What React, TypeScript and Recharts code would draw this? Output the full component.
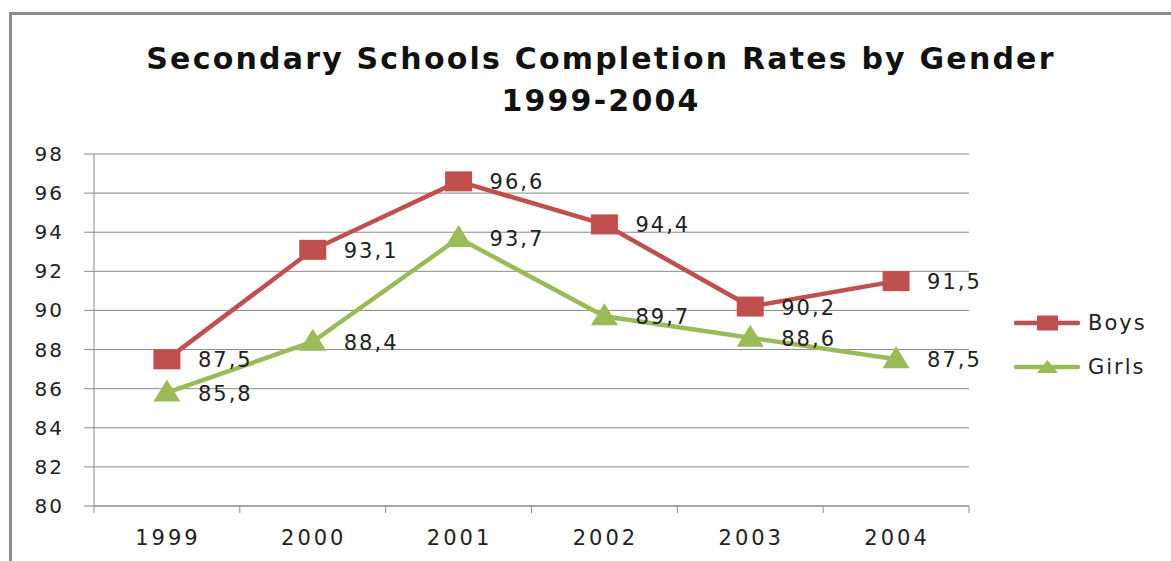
import { LineChart, Line, XAxis, YAxis, CartesianGrid, Legend, LabelList } from "recharts";

const years = [1999, 2000, 2001, 2002, 2003, 2004];
const boys = [87.5, 93.1, 96.6, 94.4, 90.2, 91.5];
const girls = [85.8, 88.4, 93.7, 89.7, 88.6, 87.5];
const yTicks = [80, 82, 84, 86, 88, 90, 92, 94, 96, 98];
const titleLines = ["Secondary Schools Completion Rates by Gender", "1999-2004"];

const RED = "#C0504D";
const GREEN = "#9BBB59";
const GRID = "#8a8a8a";
const FONT = "'DejaVu Sans', sans-serif";

const data = years.map((year, i) => ({ year, boys: boys[i], girls: girls[i] }));

// category boundaries get a small tick mark, centers get the year label
const xTicks: number[] = [];
years.forEach((y) => {
  xTicks.push(y - 0.5, y);
});
xTicks.push(years[years.length - 1] + 0.5);

const fmt = (v: number) => v.toFixed(1).replace(".", ",");

function SquareDot(props: any) {
  const { cx, cy } = props;
  if (cx == null || cy == null) return null;
  return <rect x={cx - 13.5} y={cy - 10} width={27} height={20} fill={RED} />;
}

function TriangleDot(props: any) {
  const { cx, cy } = props;
  if (cx == null || cy == null) return null;
  return (
    <polygon
      points={`${cx - 13.5},${cy + 9} ${cx + 13.5},${cy + 9} ${cx},${cy - 13}`}
      fill={GREEN}
    />
  );
}

function XTick(props: any) {
  const { x, y, payload } = props;
  const v = payload.value as number;
  if (!Number.isInteger(v)) {
    return <line x1={x} x2={x} y1={y} y2={y + 7} stroke={GRID} strokeWidth={1} />;
  }
  return (
    <text
      x={x + 1}
      y={y + 32}
      textAnchor="middle"
      dominantBaseline="central"
      fontSize={21}
      letterSpacing={3}
      fill="#222"
      fontFamily={FONT}
    >
      {v}
    </text>
  );
}

function YTick(props: any) {
  const { x, y, payload } = props;
  return (
    <text x={x + 2} y={y} textAnchor="end" dominantBaseline="central" fontSize={20} letterSpacing={2} fill="#222" fontFamily={FONT}>
      {payload.value}
    </text>
  );
}

function ValueLabel(props: any) {
  const { x, y, value } = props;
  return (
    <text x={x + 31} y={y + 1} dominantBaseline="central" fontSize={21} letterSpacing={2} fill="#222" fontFamily={FONT}>
      {fmt(value)}
    </text>
  );
}

function LegendBox() {
  const items = [
    { name: "Boys", color: RED, shape: "square" },
    { name: "Girls", color: GREEN, shape: "triangle" },
  ];
  return (
    <div>
      {items.map((it) => (
        <div key={it.name} style={{ display: "flex", alignItems: "center", height: 44 }}>
          <svg width={66} height={30}>
            <line x1={2} x2={64} y1={15} y2={15} stroke={it.color} strokeWidth={4.5} strokeLinecap="round" />
            {it.shape === "square" ? (
              <rect x={23} y={7.5} width={21} height={15} fill={it.color} />
            ) : (
              <polygon points="23,21 44,21 33.5,8" fill={it.color} />
            )}
          </svg>
          <span style={{ fontFamily: FONT, fontSize: 21, letterSpacing: 2, color: "#222", marginLeft: 8 }}>{it.name}</span>
        </div>
      ))}
    </div>
  );
}

export default function App() {
  return (
    <div style={{ position: "absolute", left: 0, top: 0, width: 1171, height: 561, overflow: "hidden", background: "#fff" }}>
      <div
        style={{
          position: "absolute",
          left: 9,
          top: 12,
          width: 1300,
          height: 700,
          borderLeft: "3px solid #8c8c8c",
          borderTop: "3px solid #8c8c8c",
        }}
      />
      <div
        style={{
          position: "absolute",
          left: 0,
          top: 38,
          width: 1202,
          textAlign: "center",
          fontFamily: FONT,
          fontWeight: "bold",
          fontSize: 30,
          letterSpacing: 2.2,
          lineHeight: "42px",
          color: "#111",
        }}
      >
        {titleLines.map((t) => (
          <div key={t}>{t}</div>
        ))}
      </div>
      <div style={{ position: "absolute", left: 0, top: 0 }}>
        <LineChart width={1171} height={561} data={data} margin={{ top: 154, right: 202, bottom: 0, left: 0 }}>
          <CartesianGrid vertical={false} stroke={GRID} strokeWidth={1} />
          <XAxis
            dataKey="year"
            type="number"
            domain={[years[0] - 0.5, years[years.length - 1] + 0.5]}
            ticks={xTicks}
            interval={0}
            tick={<XTick />}
            tickLine={false}
            tickSize={0}
            tickMargin={0}
            height={55}
            stroke={GRID}
          />
          <YAxis
            domain={[80, 98]}
            ticks={yTicks}
            interval={0}
            width={94}
            tickSize={10}
            tickMargin={22}
            stroke={GRID}
            tick={<YTick />}
          />
          <Legend
            layout="horizontal"
            verticalAlign="middle"
            content={<LegendBox />}
            wrapperStyle={{ left: 1014, top: 301, width: 157 }}
          />
          <Line
            type="linear"
            dataKey="boys"
            name="Boys"
            stroke={RED}
            strokeWidth={4.5}
            dot={<SquareDot />}
            activeDot={false}
            isAnimationActive={false}
          >
            <LabelList dataKey="boys" content={<ValueLabel />} />
          </Line>
          <Line
            type="linear"
            dataKey="girls"
            name="Girls"
            stroke={GREEN}
            strokeWidth={4.5}
            dot={<TriangleDot />}
            activeDot={false}
            isAnimationActive={false}
          >
            <LabelList dataKey="girls" content={<ValueLabel />} />
          </Line>
        </LineChart>
      </div>
    </div>
  );
}
